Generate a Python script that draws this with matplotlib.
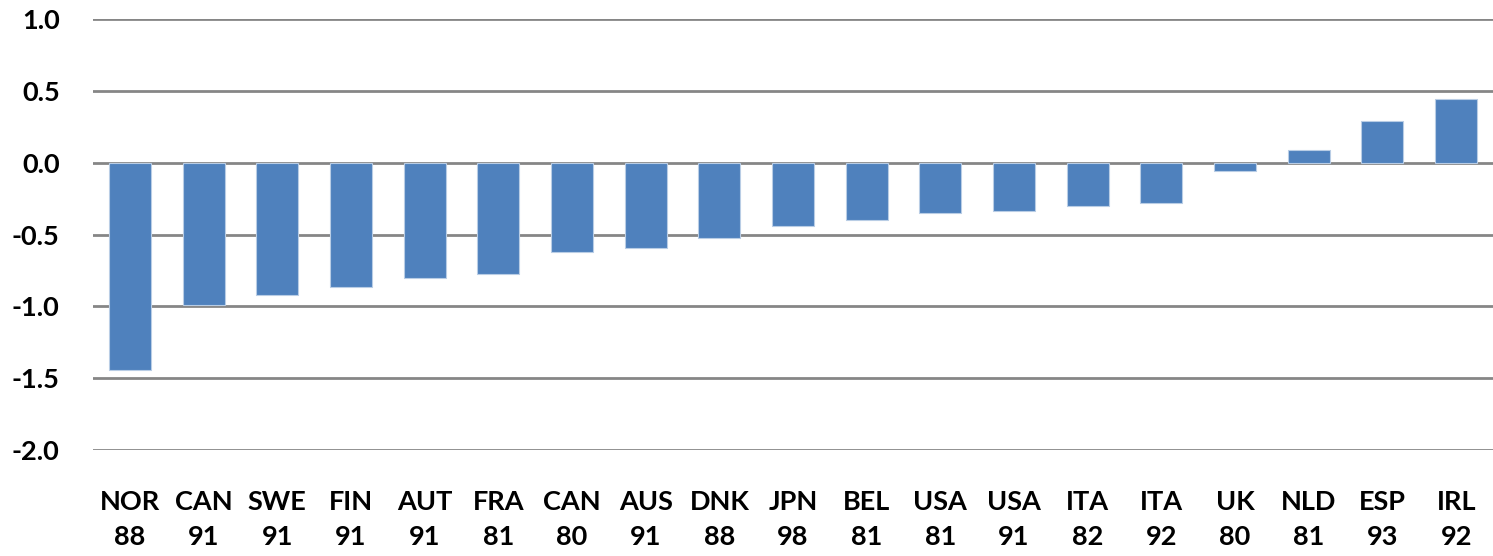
import matplotlib
matplotlib.use("Agg")
import matplotlib.pyplot as plt

countries = ["NOR", "CAN", "SWE", "FIN", "AUT", "FRA", "CAN", "AUS", "DNK", "JPN",
             "BEL", "USA", "USA", "ITA", "ITA", "UK", "NLD", "ESP", "IRL"]
years = ["88", "91", "91", "91", "91", "81", "80", "91", "88", "98",
         "81", "81", "91", "82", "92", "80", "81", "93", "92"]
values = [-1.445, -0.99, -0.92, -0.868, -0.802, -0.775, -0.625, -0.592, -0.524, -0.438,
          -0.401, -0.35, -0.334, -0.299, -0.282, -0.06, 0.088, 0.289, 0.442]

labels = [c + "\n" + y for c, y in zip(countries, years)]

plt.rcParams['font.family'] = ['Lato', 'DejaVu Sans']

fig = plt.figure(figsize=(14.93, 5.56), dpi=100)
ax = fig.add_axes([0.0623, 0.1906, 0.9377, 0.7752])

x = list(range(len(values)))
ax.bar(x, values, width=0.57, color="#4F81BD", edgecolor="#B9CDE5", linewidth=0.8, zorder=3)

ax.set_ylim(-2.0, 1.0)
ax.set_xlim(-0.5, len(values) - 0.5)
ax.set_yticks([-2.0, -1.5, -1.0, -0.5, 0.0, 0.5, 1.0])
ax.set_yticklabels(["-2.0", "-1.5", "-1.0", "-0.5", "0.0", "0.5", "1.0"],
                   fontsize=19.5, fontweight="bold")
ax.set_xticks(x)
ax.set_xticklabels(labels, fontsize=19.5, fontweight="bold", linespacing=1.55)

ax.yaxis.grid(True, color="#868686", linewidth=2, zorder=0)
ax.tick_params(axis="both", length=0)
ax.tick_params(axis="y", pad=24)
ax.tick_params(axis="x", pad=29)
for s in ax.spines.values():
    s.set_visible(False)

fig.savefig("out.png", dpi=100)
